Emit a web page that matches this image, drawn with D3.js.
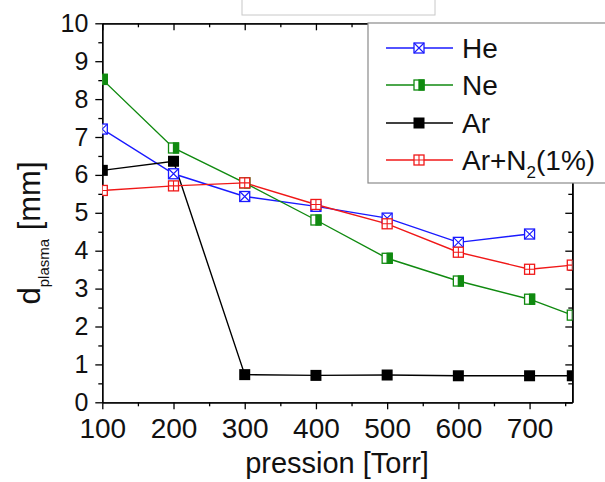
<!DOCTYPE html>
<html><head><meta charset="utf-8">
<script src="https://cdn.jsdelivr.net/npm/d3@7"></script>
<style>body{margin:0;background:#fff}svg{display:block}text{font-family:"Liberation Sans",Arial,sans-serif;fill:#111}</style>
</head><body><svg id="c" width="605" height="482"></svg>
<script>
const pressures = [100,200,300,400,500,600,700,760];
const heValues  = [7.21,6.03,5.43,5.17,4.86,4.22,4.44];
const neValues  = [8.52,6.71,5.79,4.81,3.80,3.20,2.72,2.30];
const arValues  = [6.12,6.36,0.73,0.71,0.72,0.70,0.70,0.70];
const arn2Values= [5.59,5.71,5.79,5.22,4.71,3.96,3.51,3.62];
const seriesNames = ["He","Ne","Ar","Ar+N2(1%)"];
const xTicks = [100,200,300,400,500,600,700];
const yTicks = [0,1,2,3,4,5,6,7,8,9,10];

const series = [
  {name:"He", values:heValues, color:"#1a1aff", marker:"x"},
  {name:"Ne", values:neValues, color:"#108a10", marker:"half"},
  {name:"Ar", values:arValues, color:"#000000", marker:"fill"},
  {name:"ArN2", values:arn2Values, color:"#f01818", marker:"plus"}
];

const svg = d3.select("#c");
const L=102.3, R=572.3, T=23.3, B=402.3;
const x = d3.scaleLinear().domain([100,760]).range([L,R]);
const y = d3.scaleLinear().domain([0,10]).range([B,T]);

// top remnant box
svg.append("rect").attr("x",242).attr("y",-1).attr("width",193).attr("height",16)
  .attr("fill","#fff").attr("stroke","#c8c8c8").attr("stroke-width",1);

svg.append("clipPath").attr("id","clip").append("rect")
  .attr("x",L).attr("y",T).attr("width",R-L).attr("height",B-T);

// axes
const xMinor = d3.range(150,800,100);
const yMinor = d3.range(0.5,10,1);
const ax = svg.append("g").attr("stroke","#000").attr("stroke-width",1.3);
// bottom
const gB = svg.append("g").attr("transform",`translate(0,${B})`)
  .call(d3.axisBottom(x).tickValues(xTicks).tickSize(7).tickSizeOuter(0).tickPadding(9).tickFormat(d3.format("d")));
svg.append("g").attr("transform",`translate(0,${B})`)
  .call(d3.axisBottom(x).tickValues(xMinor).tickSize(4).tickSizeOuter(0).tickFormat(""));
// top
svg.append("g").attr("transform",`translate(0,${T})`)
  .call(d3.axisBottom(x).tickValues(xTicks).tickSize(7).tickSizeOuter(0).tickFormat(""));
svg.append("g").attr("transform",`translate(0,${T})`)
  .call(d3.axisBottom(x).tickValues(xMinor).tickSize(4).tickSizeOuter(0).tickFormat(""));
// left
const gL = svg.append("g").attr("transform",`translate(${L},0)`)
  .call(d3.axisLeft(y).tickValues(yTicks).tickSize(7).tickSizeOuter(0).tickPadding(7).tickFormat(d3.format("d")));
svg.append("g").attr("transform",`translate(${L},0)`)
  .call(d3.axisLeft(y).tickValues(yMinor).tickSize(4).tickSizeOuter(0).tickFormat(""));
// right
svg.append("g").attr("transform",`translate(${R},0)`)
  .call(d3.axisLeft(y).tickValues(yTicks).tickSize(-0).tickSizeOuter(0).tickFormat(""));
svg.append("g").attr("transform",`translate(${R},0)`)
  .call(d3.axisRight(y).tickValues(yTicks).tickSize(-7).tickSizeOuter(0).tickFormat(""));
svg.append("g").attr("transform",`translate(${R},0)`)
  .call(d3.axisRight(y).tickValues(yMinor).tickSize(-4).tickSizeOuter(0).tickFormat(""));
svg.selectAll(".domain, .tick line").attr("stroke","#000").attr("stroke-width",1.3);
gB.selectAll("text").attr("font-size",28).attr("fill","#111").attr("font-family","Liberation Sans, Arial, sans-serif");
gL.selectAll("text").attr("font-size",25).attr("fill","#111").attr("font-family","Liberation Sans, Arial, sans-serif").attr("dx",-0);

// axis titles
svg.append("text").attr("x",337).attr("y",473).attr("text-anchor","middle").attr("font-size",29).text("pression [Torr]");
const yt = svg.append("text").attr("transform","translate(40,233) rotate(-90)").attr("text-anchor","middle").attr("font-size",31);
yt.append("tspan").text("d");
yt.append("tspan").attr("font-size",15).attr("dy",9).text("plasma");
yt.append("tspan").attr("dy",-9).text(" [mm]");

// markers
function drawMarker(g, type, color, cx, cy){
  const s=10, h=s/2;
  if(type==="fill"){
    g.append("rect").attr("x",cx-h-0.5).attr("y",cy-h-0.5).attr("width",s+1).attr("height",s+1).attr("fill",color);
    return;
  }
  g.append("rect").attr("x",cx-h).attr("y",cy-h).attr("width",s).attr("height",s)
    .attr("fill","#fff").attr("stroke",color).attr("stroke-width",1.3);
  if(type==="half"){
    g.append("rect").attr("x",cx).attr("y",cy-h).attr("width",h).attr("height",s).attr("fill",color).attr("stroke",color).attr("stroke-width",1.3);
  } else if(type==="x"){
    g.append("path").attr("d",`M${cx-h},${cy-h}L${cx+h},${cy+h}M${cx+h},${cy-h}L${cx-h},${cy+h}`).attr("stroke",color).attr("stroke-width",1.1);
  } else if(type==="plus"){
    g.append("path").attr("d",`M${cx},${cy-h}L${cx},${cy+h}M${cx-h},${cy}L${cx+h},${cy}`).attr("stroke",color).attr("stroke-width",1.1);
  }
}

const plot = svg.append("g").attr("clip-path","url(#clip)");
const line = d3.line().x(d=>x(d[0])).y(d=>y(d[1]));
series.forEach(s=>{
  const pts = s.values.map((v,i)=>[pressures[i],v]);
  plot.append("path").attr("d",line(pts)).attr("fill","none").attr("stroke",s.color).attr("stroke-width",1.4);
});
series.forEach(s=>{
  const g = plot.append("g");
  s.values.forEach((v,i)=>drawMarker(g,s.marker,s.color,x(pressures[i]),y(v)));
});

// legend
svg.append("rect").attr("x",368).attr("y",23).attr("width",245).attr("height",160)
  .attr("fill","#fff").attr("stroke","#8a8a8a").attr("stroke-width",1.2);
const rowsY=[48,85,123,160];
series.forEach((s,i)=>{
  const g=svg.append("g");
  g.append("line").attr("x1",386).attr("x2",453).attr("y1",rowsY[i]).attr("y2",rowsY[i]).attr("stroke",s.color).attr("stroke-width",1.3);
  drawMarker(g,s.marker,s.color,419,rowsY[i]);
  const t=g.append("text").attr("x",462).attr("y",rowsY[i]+10).attr("font-size",28);
  if(i===3){
    t.append("tspan").text("Ar+N");
    t.append("tspan").attr("font-size",17).attr("dy",8).text("2");
    t.append("tspan").attr("dy",-8).text("(1%)");
  } else t.text(seriesNames[i]);
});
</script></body></html>
